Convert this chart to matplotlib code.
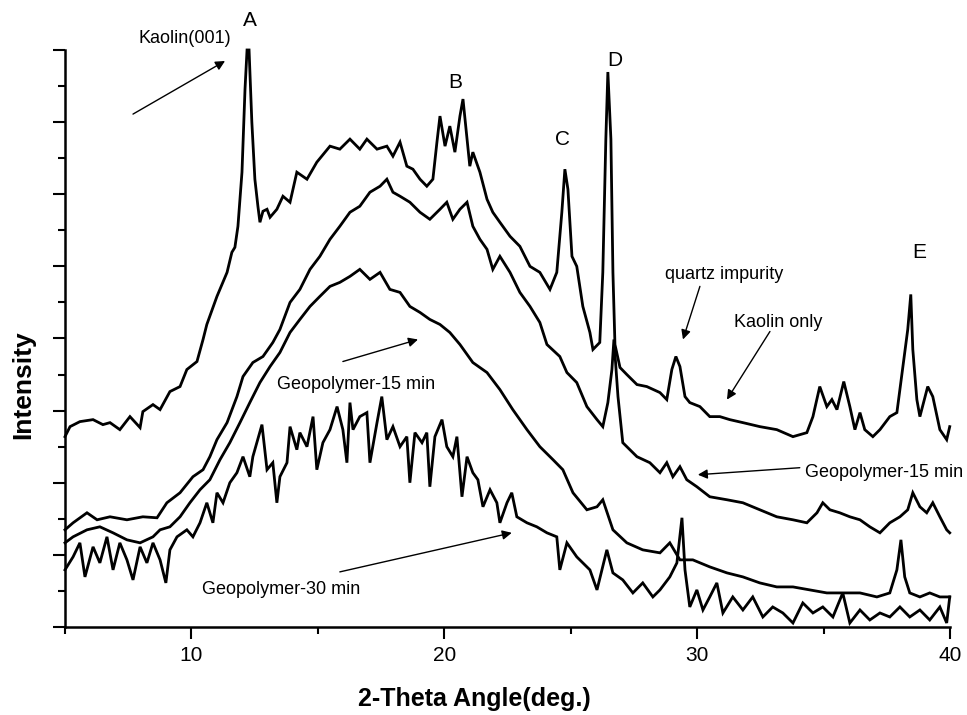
import matplotlib
matplotlib.use("Agg")
import matplotlib.pyplot as plt
from matplotlib.ticker import MultipleLocator

plt.rcParams["font.family"] = ["Liberation Sans", "DejaVu Sans"]

# intensity in arbitrary units (one minor tick = 36 a.u.)
KAOLIN_X = [5.00, 5.20, 5.59, 6.11, 6.50, 6.78, 7.17, 7.57, 7.97, 8.08, 8.48, 8.76, 9.15, 9.55,
            9.82, 10.22, 10.46, 10.61, 11.01, 11.41, 11.60, 11.72, 11.84, 12.00, 12.12, 12.20,
            12.28, 12.39, 12.51, 12.63, 12.71, 12.83, 12.99, 13.11, 13.38, 13.62, 13.90, 14.17,
            14.57, 14.96, 15.48, 15.87, 16.27, 16.66, 16.94, 17.34, 17.73, 17.97, 18.25, 18.52,
            18.76, 19.04, 19.31, 19.55, 19.71, 19.83, 20.03, 20.22, 20.42, 20.62, 20.74, 20.90,
            21.01, 21.13, 21.41, 21.69, 21.92, 22.20, 22.60, 22.99, 23.39, 23.78, 24.18, 24.45,
            24.65, 24.77, 24.89, 25.05, 25.24, 25.48, 25.76, 25.88, 26.15, 26.27, 26.39, 26.47,
            26.59, 26.67, 26.75, 26.95, 27.22, 27.62, 28.01, 28.53, 28.80, 29.00, 29.16, 29.32,
            29.52, 29.71, 30.11, 30.50, 30.90, 31.29, 31.81, 32.48, 33.15, 33.79, 34.34, 34.58,
            34.85, 35.13, 35.33, 35.53, 35.80, 36.04, 36.24, 36.44, 36.63, 36.95, 37.23, 37.62,
            37.90, 38.14, 38.33, 38.45, 38.53, 38.69, 38.81, 39.12, 39.32, 39.60, 39.87, 39.99]
KAOLIN_Y = [190, 200, 205, 207, 202, 204, 197, 210, 199, 215, 222, 217, 235, 240,
            257, 265, 287, 302, 330, 354, 374, 379, 400, 454, 537, 576,
            576, 504, 447, 420, 404, 415, 417, 409, 417, 430, 424, 454,
            447, 464, 480, 477, 487, 477, 487, 477, 480, 470, 484, 460,
            457, 447, 440, 447, 484, 510, 480, 500, 474, 510, 527, 487,
            460, 474, 454, 427, 414, 404, 390, 380, 360, 354, 337, 354,
            414, 457, 437, 370, 360, 320, 294, 277, 284, 354, 487, 554,
            487, 354, 282, 259, 252, 242, 240, 234, 227, 257, 270, 260,
            230, 224, 220, 210, 210, 207, 204, 200, 197, 190, 194, 210,
            240, 220, 227, 217, 245, 220, 197, 214, 197, 190, 197, 210,
            214, 260, 297, 332, 277, 227, 210, 240, 230, 197, 187, 200]

GEO15A_X = [5.00, 5.32, 5.87, 6.27, 6.78, 7.45, 8.08, 8.64, 9.03, 9.55, 10.06, 10.46, 10.73,
            11.01, 11.41, 11.80, 12.04, 12.43, 12.83, 13.22, 13.50, 13.90, 14.29, 14.69, 15.08,
            15.48, 15.87, 16.27, 16.66, 17.06, 17.46, 17.73, 17.97, 18.25, 18.64, 19.04, 19.43,
            19.83, 20.10, 20.34, 20.62, 20.90, 21.13, 21.41, 21.69, 21.92, 22.20, 22.60, 22.99,
            23.39, 23.78, 24.06, 24.57, 24.85, 25.24, 25.64, 26.04, 26.27, 26.47, 26.63, 26.71,
            26.87, 27.06, 27.62, 28.13, 28.53, 28.80, 29.04, 29.32, 29.59, 29.99, 30.50, 31.18,
            31.81, 32.48, 33.15, 33.79, 34.34, 34.74, 34.97, 35.25, 35.64, 36.04, 36.44, 36.83,
            37.23, 37.62, 38.02, 38.33, 38.53, 38.81, 39.08, 39.32, 39.60, 39.87, 39.99]
GEO15A_Y = [97, 104, 114, 107, 110, 107, 110, 109, 124, 134, 150, 157, 170,
            187, 204, 230, 250, 264, 270, 284, 297, 324, 337, 357, 370,
            387, 400, 414, 420, 434, 440, 447, 434, 430, 424, 414, 407,
            417, 424, 407, 417, 424, 400, 387, 377, 357, 370, 354, 334,
            320, 304, 282, 270, 254, 244, 220, 207, 200, 224, 257, 287,
            230, 184, 170, 164, 154, 164, 150, 160, 147, 140, 130, 127,
            124, 117, 110, 107, 104, 114, 124, 117, 114, 110, 107, 100,
            94, 104, 110, 117, 134, 120, 114, 124, 110, 97, 94]

GEO15B_X = [5.00, 5.32, 5.87, 6.38, 6.90, 7.45, 7.97, 8.48, 8.76, 9.15, 9.55, 9.94, 10.34,
            10.73, 11.13, 11.52, 11.92, 12.31, 12.71, 13.11, 13.50, 13.90, 14.29, 14.69, 15.08,
            15.48, 15.87, 16.27, 16.66, 17.06, 17.46, 17.85, 18.25, 18.64, 19.04, 19.43, 19.83,
            20.22, 20.62, 21.13, 21.69, 22.20, 22.71, 23.27, 23.78, 24.30, 24.69, 25.09, 25.64,
            26.04, 26.27, 26.67, 27.22, 27.85, 28.53, 28.92, 29.32, 29.83, 30.50, 31.18, 31.81,
            32.48, 33.15, 33.79, 34.46, 35.13, 35.76, 36.44, 37.11, 37.62, 37.90, 38.06, 38.21,
            38.41, 38.81, 39.20, 39.60, 39.99]
GEO15B_Y = [84, 90, 97, 100, 94, 87, 84, 90, 97, 100, 110, 124, 137,
            147, 167, 184, 204, 224, 244, 260, 274, 294, 307, 320, 330,
            340, 344, 350, 357, 347, 354, 337, 334, 320, 314, 307, 302,
            294, 282, 264, 254, 237, 217, 197, 180, 167, 157, 134, 117,
            120, 127, 97, 84, 77, 74, 84, 67, 67, 60, 54, 50,
            44, 40, 40, 37, 34, 34, 34, 30, 34, 57, 87, 50,
            34, 30, 34, 30, 30]

GEO30_X = [5.00, 5.32, 5.59, 5.79, 6.11, 6.38, 6.66, 6.90, 7.17, 7.45, 7.69, 7.97, 8.24, 8.48,
           8.76, 8.99, 9.15, 9.43, 9.82, 10.06, 10.34, 10.61, 10.85, 11.01, 11.25, 11.52, 11.80,
           12.04, 12.31, 12.43, 12.79, 12.99, 13.22, 13.38, 13.50, 13.78, 13.90, 14.17, 14.29,
           14.57, 14.81, 14.96, 15.20, 15.48, 15.76, 15.99, 16.15, 16.27, 16.39, 16.66, 16.94,
           17.06, 17.34, 17.53, 17.73, 17.97, 18.25, 18.52, 18.64, 18.84, 19.12, 19.31, 19.43,
           19.63, 19.91, 20.10, 20.34, 20.50, 20.70, 20.90, 21.13, 21.33, 21.53, 21.81, 22.08,
           22.20, 22.48, 22.67, 22.87, 23.27, 23.66, 24.06, 24.45, 24.57, 24.85, 25.24, 25.76,
           26.04, 26.43, 26.67, 27.06, 27.46, 27.85, 28.25, 28.53, 28.92, 29.20, 29.40, 29.52,
           29.71, 29.99, 30.23, 30.50, 30.78, 31.02, 31.41, 31.81, 32.20, 32.60, 32.99, 33.39,
           33.79, 34.18, 34.58, 34.97, 35.37, 35.76, 36.04, 36.44, 36.83, 37.23, 37.62, 38.02,
           38.41, 38.81, 39.20, 39.60, 39.87, 39.99]
GEO30_Y = [57, 70, 84, 50, 80, 64, 90, 57, 84, 67, 47, 80, 64, 84,
           67, 44, 77, 90, 97, 90, 104, 124, 104, 134, 124, 144, 154,
           170, 150, 170, 202, 157, 164, 124, 150, 164, 200, 177, 194,
           180, 210, 157, 184, 197, 220, 197, 164, 224, 197, 210, 214,
           164, 204, 230, 187, 200, 180, 190, 144, 194, 184, 194, 140,
           190, 207, 180, 170, 190, 130, 170, 154, 147, 120, 137, 124,
           104, 124, 134, 110, 104, 100, 94, 90, 57, 84, 70, 57,
           37, 77, 54, 47, 34, 44, 30, 37, 50, 64, 109, 57,
           20, 37, 17, 30, 44, 14, 30, 17, 30, 10, 20, 14,
           4, 24, 14, 20, 10, 34, 4, 17, 7, 14, 10, 20,
           10, 17, 7, 20, 4, 30]

PEAK_LABELS = ["A", "B", "C", "D", "E"]
PEAK_X = [12.31, 20.42, 24.69, 26.75, 38.77]
PEAK_Y = [605, 544, 487, 565, 374]

X_TICKS = [10, 20, 30, 40]


def main():
    fig = plt.figure(figsize=(9.67, 7.15), dpi=100)
    fig.patch.set_facecolor("white")
    ax = fig.add_axes([0.0672, 0.1231, 0.9152, 0.807])

    for xs, ys in [(KAOLIN_X, KAOLIN_Y), (GEO15A_X, GEO15A_Y),
                   (GEO15B_X, GEO15B_Y), (GEO30_X, GEO30_Y)]:
        ax.plot(xs, ys, color="black", lw=2.0, clip_on=False, solid_joinstyle="miter")

    ax.set_xlim(5, 40)
    ax.set_ylim(0, 576)
    ax.xaxis.set_major_locator(MultipleLocator(10))
    ax.xaxis.set_minor_locator(MultipleLocator(5))
    ax.yaxis.set_major_locator(MultipleLocator(72))
    ax.yaxis.set_minor_locator(MultipleLocator(36))
    ax.set_xticks(X_TICKS)
    ax.set_xticklabels([str(t) for t in X_TICKS])
    ax.set_yticklabels([])
    ax.tick_params(which="major", direction="out", length=8.5, width=1.5,
                   labelsize=15, pad=5)
    ax.tick_params(which="minor", direction="out", length=5, width=1.5)
    for side in ["top", "right"]:
        ax.spines[side].set_visible(False)
    for side in ["left", "bottom"]:
        ax.spines[side].set_linewidth(1.8)

    for lab, px, py in zip(PEAK_LABELS, PEAK_X, PEAK_Y):
        ax.text(px, py, lab, fontsize=15, ha="center", va="center", clip_on=False)

    arrow = dict(arrowstyle="-|>", color="black", lw=1.0, mutation_scale=14,
                 shrinkA=0, shrinkB=0)
    ax.text(9.74, 587, "Kaolin(001)", fontsize=13, ha="center", va="center")
    ax.annotate("", xy=(11.33, 565), xytext=(7.69, 512), arrowprops=arrow,
                annotation_clip=False)

    ax.text(16.51, 242, "Geopolymer-15 min", fontsize=13, ha="center", va="center")
    ax.annotate("", xy=(18.96, 287), xytext=(15.99, 265), arrowprops=arrow)

    ax.text(13.54, 37, "Geopolymer-30 min", fontsize=13, ha="center", va="center")
    ax.annotate("", xy=(22.67, 94), xytext=(15.87, 55), arrowprops=arrow)

    ax.text(31.06, 352, "quartz impurity", fontsize=13, ha="center", va="center")
    ax.annotate("", xy=(29.44, 287), xytext=(30.11, 340), arrowprops=arrow)

    ax.text(33.19, 304, "Kaolin only", fontsize=13, ha="center", va="center")
    ax.annotate("", xy=(31.18, 227), xytext=(32.88, 295), arrowprops=arrow)

    ax.text(37.38, 154, "Geopolymer-15 min", fontsize=13, ha="center", va="center",
            clip_on=False)
    ax.annotate("", xy=(30.03, 152), xytext=(34.06, 159), arrowprops=arrow)

    fig.text(0.491, 0.0224, "2-Theta Angle(deg.)", fontsize=18, fontweight="bold",
             ha="center", va="center")
    fig.text(0.0238, 0.4615, "Intensity", fontsize=19, fontweight="bold",
             ha="center", va="center", rotation=90)

    fig.savefig("out.png", dpi=100)


main()
